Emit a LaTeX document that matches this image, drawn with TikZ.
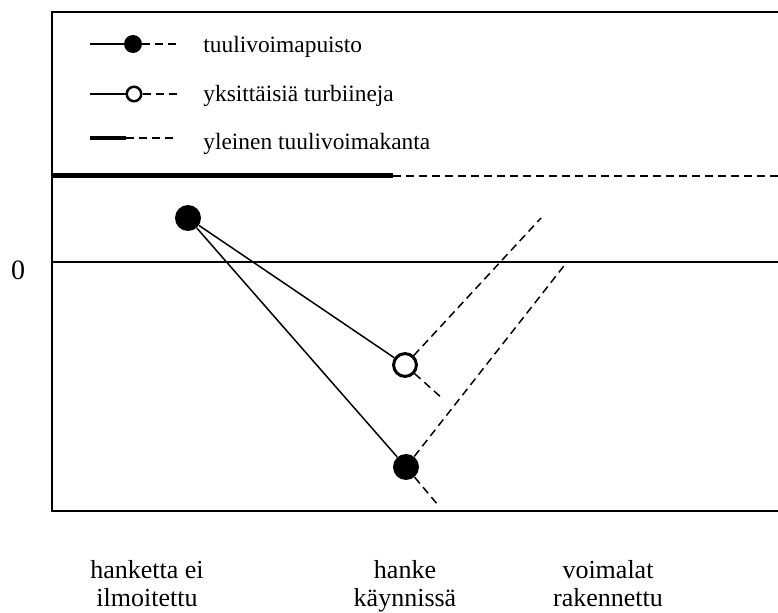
\documentclass[tikz,border=0pt]{standalone}
\usepackage{fontspec}
\setmainfont{Liberation Serif}
\newcommand{\unitsize}{0.5pt}

\begin{document}
\begin{tikzpicture}
\useasboundingbox (0,0) rectangle (778*\unitsize,612*\unitsize);
\tikzstyle{every node}=[inner sep=0pt,
			font=\fontsize{13}{14}\selectfont
			]
\tikzstyle{park}=[circle, fill=black, minimum size=13pt]
\tikzstyle{single}=[circle, draw, fill=white, line width=1.5pt, minimum size=11.4pt]
\tikzstyle{parkkey}=[circle, fill=black, minimum size=9pt]
\tikzstyle{singlekey}=[circle, draw, fill=white, line width=1.25pt, minimum size=7.25pt]
\tikzstyle{keytext}=[anchor=base west, font=\fontsize{11.7}{13}\selectfont]
\tikzstyle{stage}=[anchor=north, align=center]
\tikzstyle{trend}=[line width=0.75pt]
\tikzstyle{forecast}=[line width=0.75pt, dash pattern=on 4pt off 2.5pt]


\draw[line width=1pt] (778*\unitsize,600*\unitsize) -- (52*\unitsize,600*\unitsize) -- (52*\unitsize,101*\unitsize) -- (778*\unitsize,101*\unitsize);
    

\draw[line width=2.5pt] (52*\unitsize,436*\unitsize) -- (393*\unitsize,436*\unitsize);
    

\draw[line width=1pt, dash pattern=on 4pt off 2.5pt] (393*\unitsize,436*\unitsize) -- (778*\unitsize,436*\unitsize);
    

\draw[line width=0.75pt] (52*\unitsize,350*\unitsize) -- (778*\unitsize,350*\unitsize);
    

\node[font=\fontsize{14}{16}\selectfont] (zero) at (18*\unitsize,342*\unitsize) {0};
    

\coordinate (turbUp) at (541*\unitsize,394*\unitsize);
\coordinate (turbDown) at (443*\unitsize,213*\unitsize);
\coordinate (farmUp) at (567*\unitsize,350*\unitsize);
\coordinate (farmDown) at (438*\unitsize,107*\unitsize);
    

\node[park] (proj) at (188*\unitsize,394*\unitsize) {};
        

\node[single] (turb) at (405*\unitsize,247*\unitsize) {};
        

\node[park] (farm) at (406*\unitsize,145*\unitsize) {};
        

\draw[trend] (proj) -- (turb);
    

\draw[trend] (proj) -- (farm);
    

\draw[forecast] (turb) -- (turbUp);
    

\draw[forecast] (turb) -- (turbDown);
    

\draw[forecast] (farm) -- (farmUp);
    

\draw[forecast] (farm) -- (farmDown);
    

\coordinate (keyFarmStart) at (90*\unitsize,568*\unitsize);
\coordinate (keyFarmEnd) at (177*\unitsize,568*\unitsize);
\node[parkkey] (keyFarmDot) at (133*\unitsize,568*\unitsize) {};
\draw[trend] (keyFarmStart) -- (keyFarmDot);
\draw[forecast] (keyFarmDot) -- (keyFarmEnd);
\node[keytext] (keyFarm) at (203*\unitsize,559*\unitsize) {tuulivoimapuisto};
        

\coordinate (keyTurbStart) at (90*\unitsize,518*\unitsize);
\coordinate (keyTurbEnd) at (177*\unitsize,518*\unitsize);
\node[singlekey] (keyTurbDot) at (134*\unitsize,518*\unitsize) {};
\draw[trend] (keyTurbStart) -- (keyTurbDot);
\draw[forecast] (keyTurbDot) -- (keyTurbEnd);
\node[keytext] (keyTurb) at (203*\unitsize,510*\unitsize) {yksittäisiä turbiineja};
        

\coordinate (keyBaseStart) at (90*\unitsize,474*\unitsize);
\coordinate (keyBaseMid) at (126*\unitsize,474*\unitsize);
\coordinate (keyBaseEnd) at (177*\unitsize,474*\unitsize);
\draw[line width=2pt] (keyBaseStart) -- (keyBaseMid);
\draw[forecast] (keyBaseMid) -- (keyBaseEnd);
\node[keytext] (keyBase) at (203*\unitsize,462*\unitsize) {yleinen tuulivoimakanta};
        

\node[stage] (stageA) at (147*\unitsize,52*\unitsize) {hanketta ei\\ilmoitettu};
            

\node[stage] (stageB) at (405*\unitsize,52*\unitsize) {hanke\\käynnissä};
            

\node[stage] (stageC) at (608*\unitsize,52*\unitsize) {voimalat\\rakennettu};
            

\end{tikzpicture}
\end{document}
